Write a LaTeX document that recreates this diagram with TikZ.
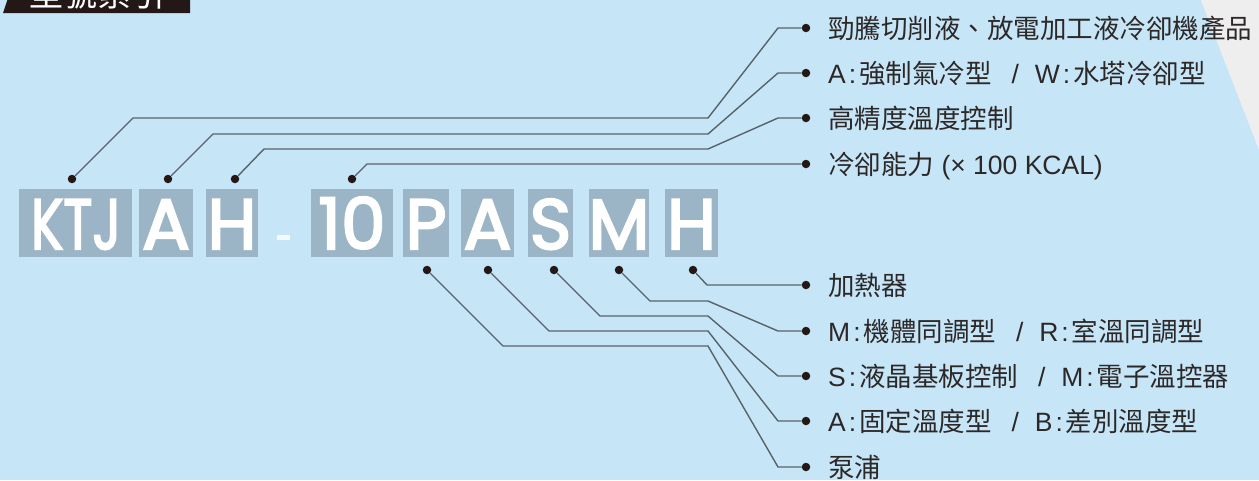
\documentclass[tikz,border=0pt]{standalone}
\usepackage{fontspec}
\setmainfont{Liberation Sans}
\newfontfamily\cjk{Noto Sans CJK TC}
\newfontfamily\bigletters{Poppins}[FakeBold=3]
\definecolor{bgblue}{RGB}{198,230,248}
\definecolor{paleg}{RGB}{238,238,238}
\definecolor{boxgray}{RGB}{155,181,198}
\definecolor{linegray}{RGB}{88,98,106}
\definecolor{dotdark}{RGB}{35,24,21}
\definecolor{txtdark}{RGB}{45,40,40}
\newcommand\cln{\kern3pt:\kern3pt}
\newcommand\sep{\hspace{0.75em}/\hspace{0.6em}}
\tikzset{
  lbox/.style={fill=boxgray, draw=none, inner sep=0pt, minimum height=68pt},
  bigtxt/.style={text=white, inner sep=0pt, anchor=base, font=\bigletters\fontsize{71}{71}\selectfont},
  dotn/.style={circle, fill=dotdark, inner sep=0pt, minimum size=8.5pt},
  conn/.style={draw=linegray, line width=1.4pt},
  labtxt/.style={anchor=base west, inner sep=0pt, text=txtdark, font=\fontsize{26.5}{26.5}\selectfont},
}
\begin{document}
\begin{tikzpicture}[x=1pt,y=-1pt]
\useasboundingbox (0,0) rectangle (1259,480);
\clip (0,0) rectangle (1259,480);
\fill[bgblue] (0,0) rectangle (1259,480);
\fill[paleg] (1200,-2) -- (1261,-2) -- (1261,150) -- (1259,150) -- cycle;
% tab
\fill[dotdark] (3,13) -- (8,-2) -- (190,-2) -- (190,13) -- cycle;
\node[anchor=base west, inner sep=0pt, text=white, font=\cjk\fontsize{34}{34}\selectfont] (tab) at (29,6.5) {型號索引};
% letter boxes
\node[lbox, minimum width=113pt] (bK) at (75.5,223) {};
\node[lbox, minimum width=54pt] (bA) at (166,223) {};
\node[lbox, minimum width=52pt] (bH) at (232,223) {};
\node[lbox, minimum width=82pt] (b10) at (352,223) {};
\node[lbox, minimum width=46pt] (bP) at (426,223) {};
\node[lbox, minimum width=53pt] (bA2) at (487.5,223) {};
\node[lbox, minimum width=45pt] (bS) at (550.5,223) {};
\node[lbox, minimum width=60pt] (bM) at (619,223) {};
\node[lbox, minimum width=53pt] (bH2) at (691.5,223) {};
\node[fill=white, fill opacity=0.8, inner sep=0pt, minimum width=13pt, minimum height=5pt] (dash) at (283.5,237.5) {};
% letters
\node[bigtxt, xscale=0.76] (tKTJ) at (76,249) {KTJ};
\node[bigtxt] (tA) at (166,249) {A};
\node[bigtxt] (tH) at (232,249) {H};
\node[bigtxt] (t10) at (352,249) {10};
\node[bigtxt] (tP) at (426,249) {P};
\node[bigtxt] (tA2) at (487.5,249) {A};
\node[bigtxt] (tS) at (550.5,249) {S};
\node[bigtxt] (tM) at (619,249) {M};
\node[bigtxt] (tH2) at (691.5,249) {H};
% dots on letters
\node[dotn] (dK) at (72,179) {};
\node[dotn] (dA) at (168,179) {};
\node[dotn] (dH) at (235,179) {};
\node[dotn] (d10) at (352,179) {};
\node[dotn] (dP) at (427,270) {};
\node[dotn] (dA2) at (488,270) {};
\node[dotn] (dS) at (554,270) {};
\node[dotn] (dM) at (619,270) {};
\node[dotn] (dH2) at (693,270) {};
% right dots
\node[dotn] (r1) at (806,28) {};
\node[dotn] (r2) at (806,73) {};
\node[dotn] (r3) at (806,118) {};
\node[dotn] (r4) at (806,164) {};
\node[dotn] (r5) at (806,285) {};
\node[dotn] (r6) at (806,331) {};
\node[dotn] (r7) at (806,376) {};
\node[dotn] (r8) at (806,421) {};
\node[dotn] (r9) at (806,467) {};
% connectors
\draw[conn] (dK) -- (133,118) -- (708,118) -- (778,28) -- (r1);
\draw[conn] (dA) -- (213,134) -- (708,134) -- (778,73) -- (r2);
\draw[conn] (dH) -- (264,149) -- (708,149) -- (778,118) -- (r3);
\draw[conn] (d10) -- (367,164) -- (r4);
\draw[conn] (dH2) -- (707,285) -- (r5);
\draw[conn] (dM) -- (650,301) -- (708,301) -- (778,331) -- (r6);
\draw[conn] (dS) -- (600,316) -- (708,316) -- (778,376) -- (r7);
\draw[conn] (dA2) -- (549,331) -- (708,331) -- (778,421) -- (r8);
\draw[conn] (dP) -- (503,346) -- (708,346) -- (778,467) -- (r9);
% labels
\node[labtxt] (l1) at (828,38) {\cjk 勁騰切削液、放電加工液冷卻機產品};
\node[labtxt] (l2) at (828,83) {A\cln{\cjk 強制氣冷型}\sep W\cln{\cjk 水塔冷卻型}};
\node[labtxt] (l3) at (828,128) {\cjk 高精度溫度控制};
\node[labtxt] (l4) at (828,174) {{\cjk 冷卻能力} (× 100 KCAL)};
\node[labtxt] (l5) at (828,295) {\cjk 加熱器};
\node[labtxt] (l6) at (828,341) {M\cln{\cjk 機體同調型}\sep R\cln{\cjk 室溫同調型}};
\node[labtxt] (l7) at (828,386) {S\cln{\cjk 液晶基板控制}\sep M\cln{\cjk 電子溫控器}};
\node[labtxt] (l8) at (828,431) {A\cln{\cjk 固定溫度型}\sep B\cln{\cjk 差別溫度型}};
\node[labtxt] (l9) at (828,477) {\cjk 泵浦};
\end{tikzpicture}
\end{document}
